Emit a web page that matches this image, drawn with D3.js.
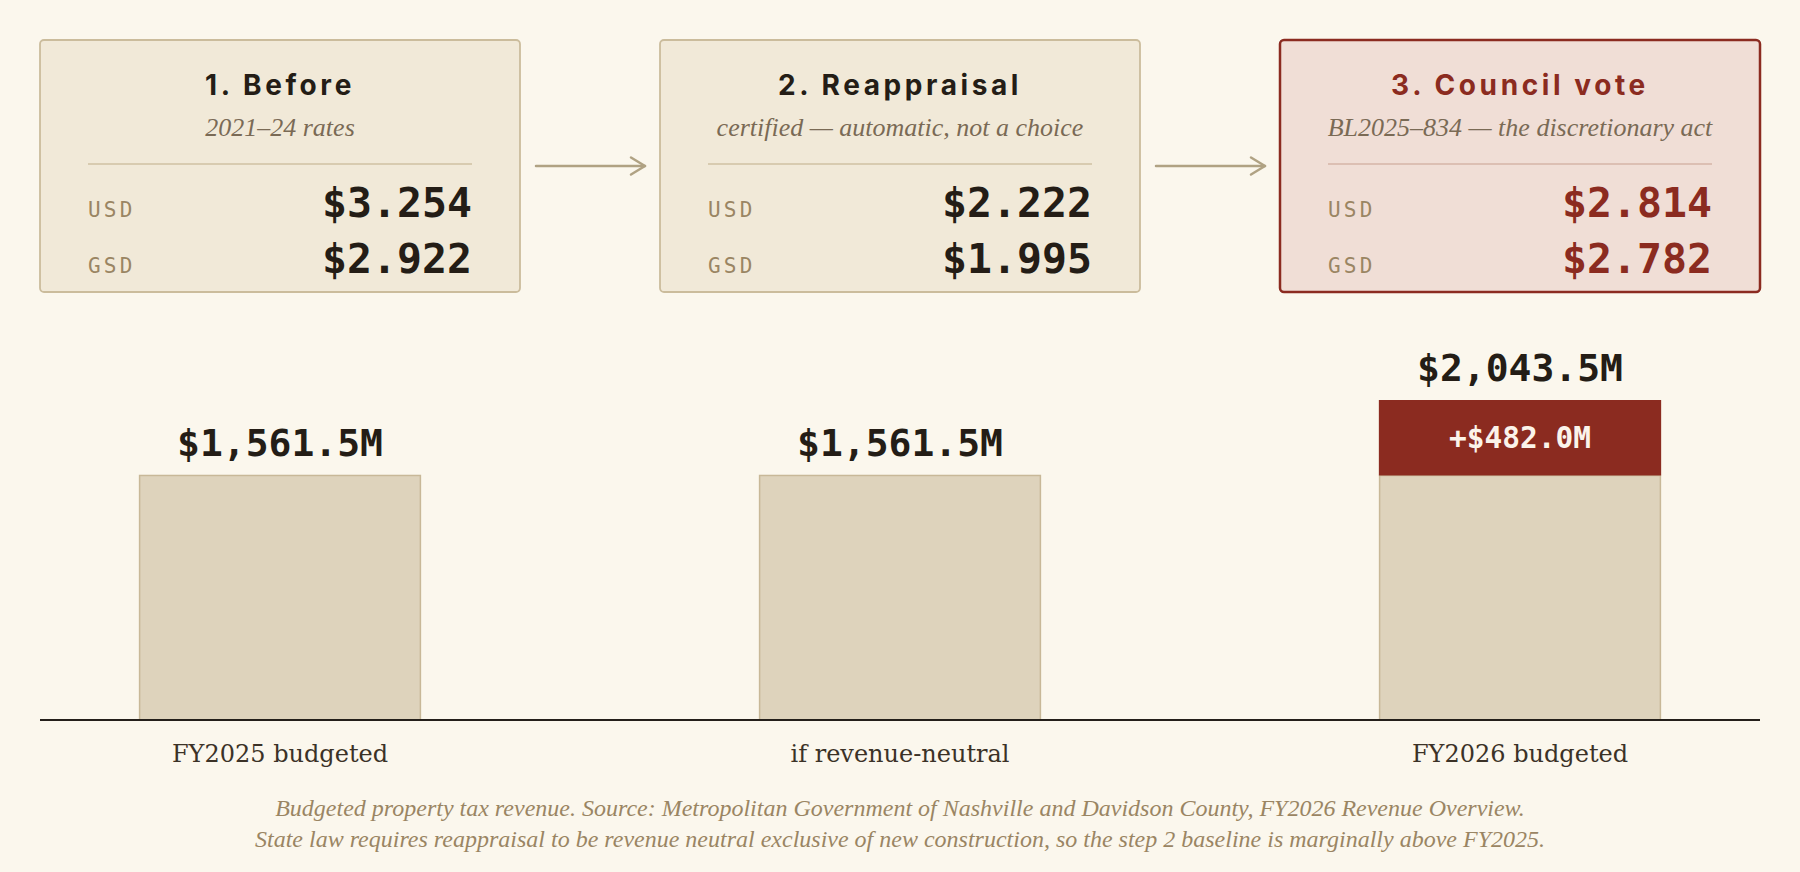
<!DOCTYPE html>
<html>
<head>
<meta charset="utf-8">
<script src="https://cdn.jsdelivr.net/npm/d3@7"></script>
<style>
  html, body { margin: 0; padding: 0; background: #fbf7ed; }
  svg { display: block; }
</style>
</head>
<body>
<svg id="chart" width="1800" height="872"></svg>
<script>
// ---- data ----
const stages = ["1. Before", "2. Reappraisal", "3. Council vote"];
const stageNotes = ["2021\u201324 rates", "certified \u2014 automatic, not a choice", "BL2025\u2013834 \u2014 the discretionary act"];
const rateLabels = ["USD", "GSD"];
const usdRates = [3.254, 2.222, 2.814];
const gsdRates = [2.922, 1.995, 2.782];
const categories = ["FY2025 budgeted", "if revenue-neutral", "FY2026 budgeted"];
const baseRevenue = [1561.5, 1561.5, 1561.5];
const addedRevenue = [0, 0, 482.0];
const footnotes = [
  "Budgeted property tax revenue. Source: Metropolitan Government of Nashville and Davidson County, FY2026 Revenue Overview.",
  "State law requires reappraisal to be revenue neutral exclusive of new construction, so the step 2 baseline is marginally above FY2025."
];

// ---- styles ----
const C = {
  bg: "#fbf7ed", box: "#f1e9d8", boxStroke: "#cbbc9c", hiBox: "#f0ded6", hi: "#8b2b20",
  ink: "#241d16", note: "#7a6a55", label: "#9a8563", divider: "#d8cbb0", hiDivider: "#dcbfb3",
  arrow: "#b0a283", bar: "#ded3bc", barStroke: "#c8b898", axis: "#241f1a", foot: "#9a8563"
};
const MONO = "'DejaVu Sans Mono', monospace";
const SERIF = "'Liberation Serif', serif";
const SERIF2 = "'DejaVu Serif', serif";
const SANS = "Inter, 'Open Sans', sans-serif";

const svg = d3.select("#chart");
svg.append("rect").attr("width", 1800).attr("height", 872).attr("fill", C.bg);

const left = 40, right = 1760;
const xBox = d3.scaleBand().domain(stages).range([left, right]).paddingInner(140 / 620).paddingOuter(0);
const x = d3.scaleBand().domain(categories).range([left, right]).paddingInner(140 / 620).paddingOuter(0);

// ---- stage boxes ----
const boxTop = 40, boxH = 252, pad = 48;
const boxes = svg.append("g").selectAll("g").data(stages).join("g")
  .attr("transform", d => `translate(${xBox(d)},${boxTop})`);
boxes.append("rect")
  .attr("x", 0).attr("y", 0).attr("width", xBox.bandwidth()).attr("height", boxH).attr("rx", 4)
  .attr("fill", (d, i) => i === 2 ? C.hiBox : C.box)
  .attr("stroke", (d, i) => i === 2 ? C.hi : C.boxStroke)
  .attr("stroke-width", (d, i) => i === 2 ? 2.5 : 1.8);
boxes.append("text").text(d => d)
  .attr("x", xBox.bandwidth() / 2).attr("y", 55).attr("text-anchor", "middle")
  .attr("font-family", SANS).attr("font-weight", 700).attr("font-size", 28).attr("letter-spacing", 3.6)
  .attr("fill", (d, i) => i === 2 ? C.hi : C.ink);
boxes.append("text").text((d, i) => stageNotes[i])
  .attr("x", xBox.bandwidth() / 2).attr("y", 96).attr("text-anchor", "middle")
  .attr("font-family", SERIF).attr("font-style", "italic").attr("font-size", 26)
  .attr("fill", C.note);
boxes.append("line")
  .attr("x1", pad).attr("x2", xBox.bandwidth() - pad).attr("y1", 124).attr("y2", 124)
  .attr("stroke", (d, i) => i === 2 ? C.hiDivider : C.divider).attr("stroke-width", 2);
const rateRows = [usdRates, gsdRates];
rateRows.forEach((arr, r) => {
  const yb = 177 + r * 55.5;
  boxes.append("text").text(rateLabels[r])
    .attr("x", pad).attr("y", yb).attr("font-family", MONO).attr("font-size", 21).attr("letter-spacing", 3.2)
    .attr("fill", C.label);
  boxes.append("text").text((d, i) => "$" + d3.format(".3f")(arr[i]))
    .attr("x", xBox.bandwidth() - pad).attr("y", yb).attr("text-anchor", "end")
    .attr("font-family", MONO).attr("font-weight", 700).attr("font-size", 41.5)
    .attr("fill", (d, i) => i === 2 ? C.hi : C.ink);
});

// ---- arrows between boxes ----
const arrowY = boxTop + 126;
stages.slice(0, -1).forEach((s, i) => {
  const x1 = xBox(s) + xBox.bandwidth() + 16;
  const x2 = xBox(stages[i + 1]) - 15;
  const g = svg.append("g").attr("stroke", C.arrow).attr("stroke-width", 2.5).attr("fill", "none")
    .attr("stroke-linecap", "round").attr("stroke-linejoin", "round");
  g.append("line").attr("x1", x1).attr("x2", x2).attr("y1", arrowY).attr("y2", arrowY);
  g.append("path").attr("d", `M${x2 - 14},${arrowY - 8.5}L${x2},${arrowY}L${x2 - 14},${arrowY + 8.5}`);
});

// ---- bars ----
const totals = baseRevenue.map((b, i) => b + addedRevenue[i]);
const y = d3.scaleLinear().domain([0, d3.max(totals)]).range([720, 400]);
const barW = x.bandwidth() * 0.585;
const bx = d => x(d) + (x.bandwidth() - barW) / 2;

const bars = svg.append("g").selectAll("g").data(categories).join("g");
bars.append("rect")
  .attr("x", d => bx(d)).attr("width", barW)
  .attr("y", (d, i) => y(baseRevenue[i])).attr("height", (d, i) => y(0) - y(baseRevenue[i]))
  .attr("fill", C.bar).attr("stroke", C.barStroke).attr("stroke-width", 1.5);
bars.filter((d, i) => addedRevenue[i] > 0).append("rect")
  .attr("x", d => bx(d) - 0.75).attr("width", barW + 1.5)
  .attr("y", d => { const i = categories.indexOf(d); return y(totals[i]); })
  .attr("height", d => { const i = categories.indexOf(d); return y(baseRevenue[i]) - y(totals[i]); })
  .attr("fill", C.hi);
bars.filter((d, i) => addedRevenue[i] > 0).append("text")
  .text(d => "+$" + d3.format(",.1f")(addedRevenue[categories.indexOf(d)]) + "M")
  .attr("x", d => x(d) + x.bandwidth() / 2)
  .attr("y", d => { const i = categories.indexOf(d); return (y(baseRevenue[i]) + y(totals[i])) / 2 + 10.5; })
  .attr("text-anchor", "middle").attr("font-family", MONO).attr("font-weight", 700).attr("font-size", 29.5)
  .attr("fill", "#fbf3ea");
bars.append("text")
  .text((d, i) => "$" + d3.format(",.1f")(totals[i]) + "M")
  .attr("x", d => x(d) + x.bandwidth() / 2)
  .attr("y", (d, i) => y(totals[i]) - 19)
  .attr("text-anchor", "middle").attr("font-family", MONO).attr("font-weight", 700).attr("font-size", 38)
  .attr("fill", C.ink);

// ---- axis ----
const axis = svg.append("g").attr("transform", `translate(0,${y(0)})`)
  .call(d3.axisBottom(x).tickSize(0).tickPadding(0));
axis.select(".domain").remove();
axis.append("line").attr("x1", left).attr("x2", right).attr("y1", 0).attr("y2", 0)
  .attr("stroke", C.axis).attr("stroke-width", 2.2);
axis.selectAll(".tick text")
  .attr("dy", 0).attr("y", 42)
  .attr("font-family", SERIF2).attr("font-size", 24).attr("fill", "#3b3227");

// ---- footnote ----
svg.append("g").selectAll("text").data(footnotes).join("text")
  .text(d => d)
  .attr("x", (left + right) / 2).attr("y", (d, i) => 816 + i * 31)
  .attr("text-anchor", "middle").attr("font-family", SERIF).attr("font-style", "italic")
  .attr("font-size", 24).attr("fill", C.foot);
</script>
</body>
</html>
